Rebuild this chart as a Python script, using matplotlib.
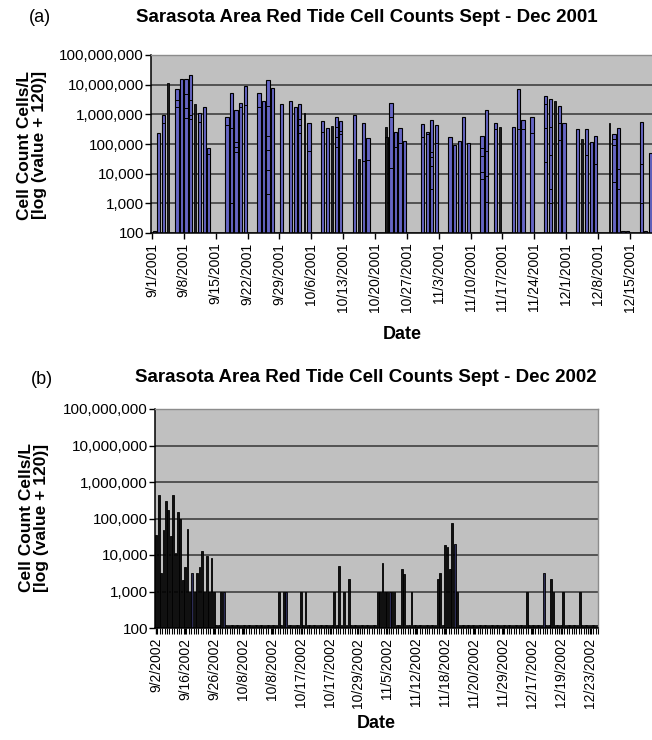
import pandas as pd
import numpy as np
import matplotlib
matplotlib.use("Agg")
import matplotlib.pyplot as plt
from matplotlib.ticker import FixedLocator, FuncFormatter, NullLocator

plt.rcParams["font.family"] = ["Liberation Sans", "DejaVu Sans"]

# =========================
# Data (a) Sept - Dec 2001, highest count per sampling day
# =========================
dates_2001 = ["09-01", "09-02", "09-03", "09-04", "09-06", "09-07", "09-08", "09-09", "09-10",
              "09-11", "09-12", "09-13", "09-17", "09-18", "09-19", "09-20", "09-21", "09-24",
              "09-25", "09-26", "09-27", "09-29", "10-01", "10-02", "10-03", "10-04", "10-05",
              "10-08", "10-09", "10-10", "10-11", "10-12", "10-15", "10-16", "10-17", "10-18",
              "10-22", "10-23", "10-24", "10-25", "10-26", "10-30", "10-31", "11-01", "11-02",
              "11-05", "11-06", "11-07", "11-08", "11-09", "11-12", "11-13", "11-15", "11-16",
              "11-19", "11-20", "11-21", "11-23", "11-26", "11-27", "11-28", "11-29", "11-30",
              "12-03", "12-04", "12-05", "12-06", "12-07", "12-10", "12-11", "12-12", "12-13",
              "12-14", "12-17", "12-18", "12-19"]
counts_2001 = [120, 230000, 950000, 11000000, 7000000, 15000000, 15000000, 21000000, 2300000,
               1150000, 1700000, 71000, 830000, 5200000, 1450000, 2500000, 9100000, 5200000,
               2800000, 14000000, 8000000, 2200000, 2800000, 1700000, 2200000, 1150000, 510000,
               590000, 350000, 410000, 800000, 590000, 940000, 32000, 510000, 155000,
               380000, 2500000, 245000, 350000, 130000, 470000, 245000, 630000, 440000,
               175000, 92000, 130000, 830000, 112000, 190000, 1450000, 510000, 380000,
               380000, 7100000, 630000, 830000, 4100000, 3200000, 2800000, 1900000, 510000,
               310000, 142000, 310000, 118000, 185000, 510000, 210000, 350000, 120,
               120, 560000, 120, 50000]
# days where the overlapping samples make the bar look black
dark_2001 = ["09-04", "09-10", "10-04", "10-10", "10-16", "10-22", "11-16", "11-28", "12-04", "12-10"]

# other samples on the same day (drawn inside the bars)
extra_dates_2001 = ["09-03", "09-06", "09-06", "09-08", "09-08", "09-08", "09-09", "09-09", "09-09",
                    "09-11", "09-13", "09-17", "09-18", "09-18", "09-19", "09-19", "09-19", "09-20",
                    "09-21", "09-24", "09-26", "09-26", "09-26", "09-26", "09-26", "10-03", "10-03",
                    "10-03", "10-05", "10-08", "10-11", "10-11", "10-11", "10-12", "10-12", "10-17",
                    "10-18", "10-22", "10-23", "10-23", "10-24", "10-25", "10-30", "10-31", "11-01",
                    "11-01", "11-01", "11-01", "11-02", "11-12", "11-12", "11-12", "11-12", "11-13",
                    "11-13", "11-13", "11-15", "11-20", "11-21", "11-23", "11-26", "11-26", "11-26",
                    "11-27", "11-27", "11-27", "11-27", "11-29", "11-29", "12-05", "12-07", "12-11",
                    "12-11", "12-11", "12-12", "12-12", "12-17", "12-17"]
extra_counts_2001 = [510000, 3000000, 1700000, 4800000, 1600000, 730000, 3000000, 940000, 680000,
                     560000, 46000, 440000, 350000, 1050, 118000, 80000, 55000, 1700000,
                     2000000, 1700000, 1900000, 185000, 62000, 13000, 2000, 680000, 440000,
                     240000, 58000, 260000, 380000, 175000, 80000, 280000, 210000, 27000,
                     30000, 175000, 800000, 16000, 80000, 110000, 175000, 210000, 55000,
                     37000, 18000, 3000, 105000, 71000, 39000, 11500, 6400, 58000,
                     8500, 1080, 310000, 330000, 330000, 230000, 2200000, 350000, 25000,
                     380000, 42000, 3000, 1050, 510000, 140000, 42000, 22000, 150000,
                     92000, 5100, 14000, 3000, 22000, 1050]

# =========================
# Data (b) Sept - Dec 2002, one bar per sample
# =========================
labels_2002 = ["9/2/2002", "9/16/2002", "9/26/2002", "10/8/2002", "10/8/2002", "10/17/2002",
               "10/17/2002", "10/29/2002", "11/5/2002", "11/12/2002", "11/18/2002", "11/20/2002",
               "11/29/2002", "12/17/2002", "12/19/2002", "12/23/2002"]
counts_2002 = [
    35000, 450000, 3200, 49000, 310000, 170000, 34000, 450000, 11000, 155000,
    100000, 2100, 4800, 52000, 1000, 3200, 1000, 3200, 4800, 12500,
    1000, 9500, 1000, 8200, 1000, 120, 120, 1000, 1000, 120,
    120, 120, 120, 120, 120, 120, 120, 120, 120, 120,
    120, 120, 120, 120, 120, 120, 120, 120, 120, 120,
    120, 1000, 120, 1000, 1000, 120, 120, 120, 120, 120,
    1000, 120, 1000, 120, 120, 120, 120, 120, 120, 120,
    120, 120, 120, 120, 1000, 120, 5000, 120, 1000, 120,
    2200, 120, 120, 120, 120, 120, 120, 120, 120, 120,
    120, 120, 1000, 1000, 6200, 1000, 1000, 1000, 1000, 1000,
    120, 120, 4100, 3100, 120, 120, 1000, 120, 120, 120,
    120, 120, 120, 120, 120, 120, 120, 2200, 3200, 120,
    19000, 16500, 4200, 75000, 20000, 1000, 120, 120, 120, 120,
    120, 120, 120, 120, 120, 120, 120, 120, 120, 120,
    120, 120, 120, 120, 120, 120, 120, 120, 120, 120,
    120, 120, 120, 120, 1000, 120, 120, 120, 120, 120,
    120, 3200, 120, 120, 2200, 1000, 120, 120, 120, 1000,
    120, 120, 120, 120, 120, 120, 1000, 120, 120, 120,
    120, 120, 120, 120]
blue_2002 = [15, 28, 54, 97, 124, 161]

Y_TICKS = [100, 1000, 10000, 100000, 1000000, 10000000, 100000000]

BG = "#c0c0c0"
BAR_A = "#6666c4"


def fmt_axis(ax):
    ax.set_yscale("log")
    ax.set_ylim(100, 100000000)
    ax.yaxis.set_major_locator(FixedLocator(Y_TICKS))
    ax.yaxis.set_minor_locator(NullLocator())
    ax.yaxis.set_major_formatter(FuncFormatter(lambda v, p: f"{v:,.0f}"))
    ax.set_facecolor(BG)
    ax.set_axisbelow(True)
    ax.grid(axis="y", color="#4a4a4a", linewidth=1.3)
    ax.tick_params(axis="y", labelsize=11, length=4, width=1, pad=1)
    ax.tick_params(axis="x", labelsize=10, length=4, width=1, pad=3, labelrotation=90)
    for s in ["left", "bottom"]:
        ax.spines[s].set_color("black")
        ax.spines[s].set_linewidth(1.1)
    for s in ["top", "right"]:
        ax.spines[s].set_color("#8c8c8c")
        ax.spines[s].set_linewidth(1.0)


fig = plt.figure(figsize=(6.52, 7.40), dpi=100)

# ---------- (a) ----------
ax1 = fig.add_axes([151 / 652, 1 - 233 / 740, 503 / 652, 178 / 740])
fmt_axis(ax1)
start = pd.Timestamp("2001-09-01")
day = np.array([(pd.Timestamp("2001-" + d) - start).days for d in dates_2001])
eday = np.array([(pd.Timestamp("2001-" + d) - start).days for d in extra_dates_2001])
is_dark = np.array([d in dark_2001 for d in dates_2001])
vals = np.array(counts_2001)
ax1.bar(day[~is_dark] + 0.5, vals[~is_dark] - 100, bottom=100, width=0.72, color=BAR_A,
        edgecolor="black", linewidth=0.8, zorder=2)
ax1.bar(day[is_dark] + 0.5, vals[is_dark] - 100, bottom=100, width=0.38, color="#1c1c1c",
        edgecolor="black", linewidth=0.6, zorder=2)
ev = np.array(extra_counts_2001)
ax1.bar(eday + 0.5, ev - 100, bottom=100, width=0.72, color="none",
        edgecolor="black", linewidth=0.7, zorder=3)
tick_days = np.arange(0, 106, 7)
ax1.set_xticks(tick_days)
ax1.set_xticklabels([(start + pd.Timedelta(days=int(t))).strftime("%-m/%-d/%Y") for t in tick_days])
ax1.set_xlim(-0.2, 110.3)
ax1.set_xlabel("Date", fontsize=13, fontweight="bold", labelpad=10)

fig.text(367 / 652, 1 - 17 / 740, "Sarasota Area Red Tide Cell Counts Sept - Dec 2001",
         ha="center", va="center", fontsize=13.5, fontweight="bold")
fig.text(40 / 652, 1 - 17 / 740, "(a)", ha="center", va="center", fontsize=13)
fig.text(32 / 652, 1 - 145 / 740, "Cell Count Cells/L\n[log (value + 120)]", rotation=90,
         ha="center", va="center", fontsize=12.5, fontweight="bold", multialignment="center",
         linespacing=1.05)

# ---------- (b) ----------
ax2 = fig.add_axes([155 / 652, 1 - 628 / 740, 443 / 652, 219 / 740])
fmt_axis(ax2)
n = len(counts_2002)
idx = np.arange(n)
vals2 = np.array(counts_2002)
cols2 = ["#2b2b55" if i in blue_2002 else "#111111" for i in idx]
ax2.bar(idx, vals2 - 100, bottom=100, width=0.75, color=cols2,
        edgecolor="black", linewidth=0.6, zorder=2)
ax2.set_xticks(np.arange(0, n, 12)[:len(labels_2002)])
ax2.set_xticklabels(labels_2002)
ax2.set_xticks(np.arange(n) + 0.5, minor=True)
ax2.tick_params(axis="x", which="minor", length=4, width=0.8)
ax2.set_xlim(-0.5, n - 0.5)
ax2.set_xlabel("Date", fontsize=13, fontweight="bold", labelpad=5)

fig.text(366 / 652, 1 - 378 / 740, "Sarasota Area Red Tide Cell Counts Sept - Dec 2002",
         ha="center", va="center", fontsize=13.5, fontweight="bold")
fig.text(42 / 652, 1 - 380 / 740, "(b)", ha="center", va="center", fontsize=13)
fig.text(34 / 652, 1 - 518 / 740, "Cell Count Cells/L\n[log (value + 120)]", rotation=90,
         ha="center", va="center", fontsize=12.5, fontweight="bold", multialignment="center",
         linespacing=1.05)

plt.savefig("out.png", dpi=100)
